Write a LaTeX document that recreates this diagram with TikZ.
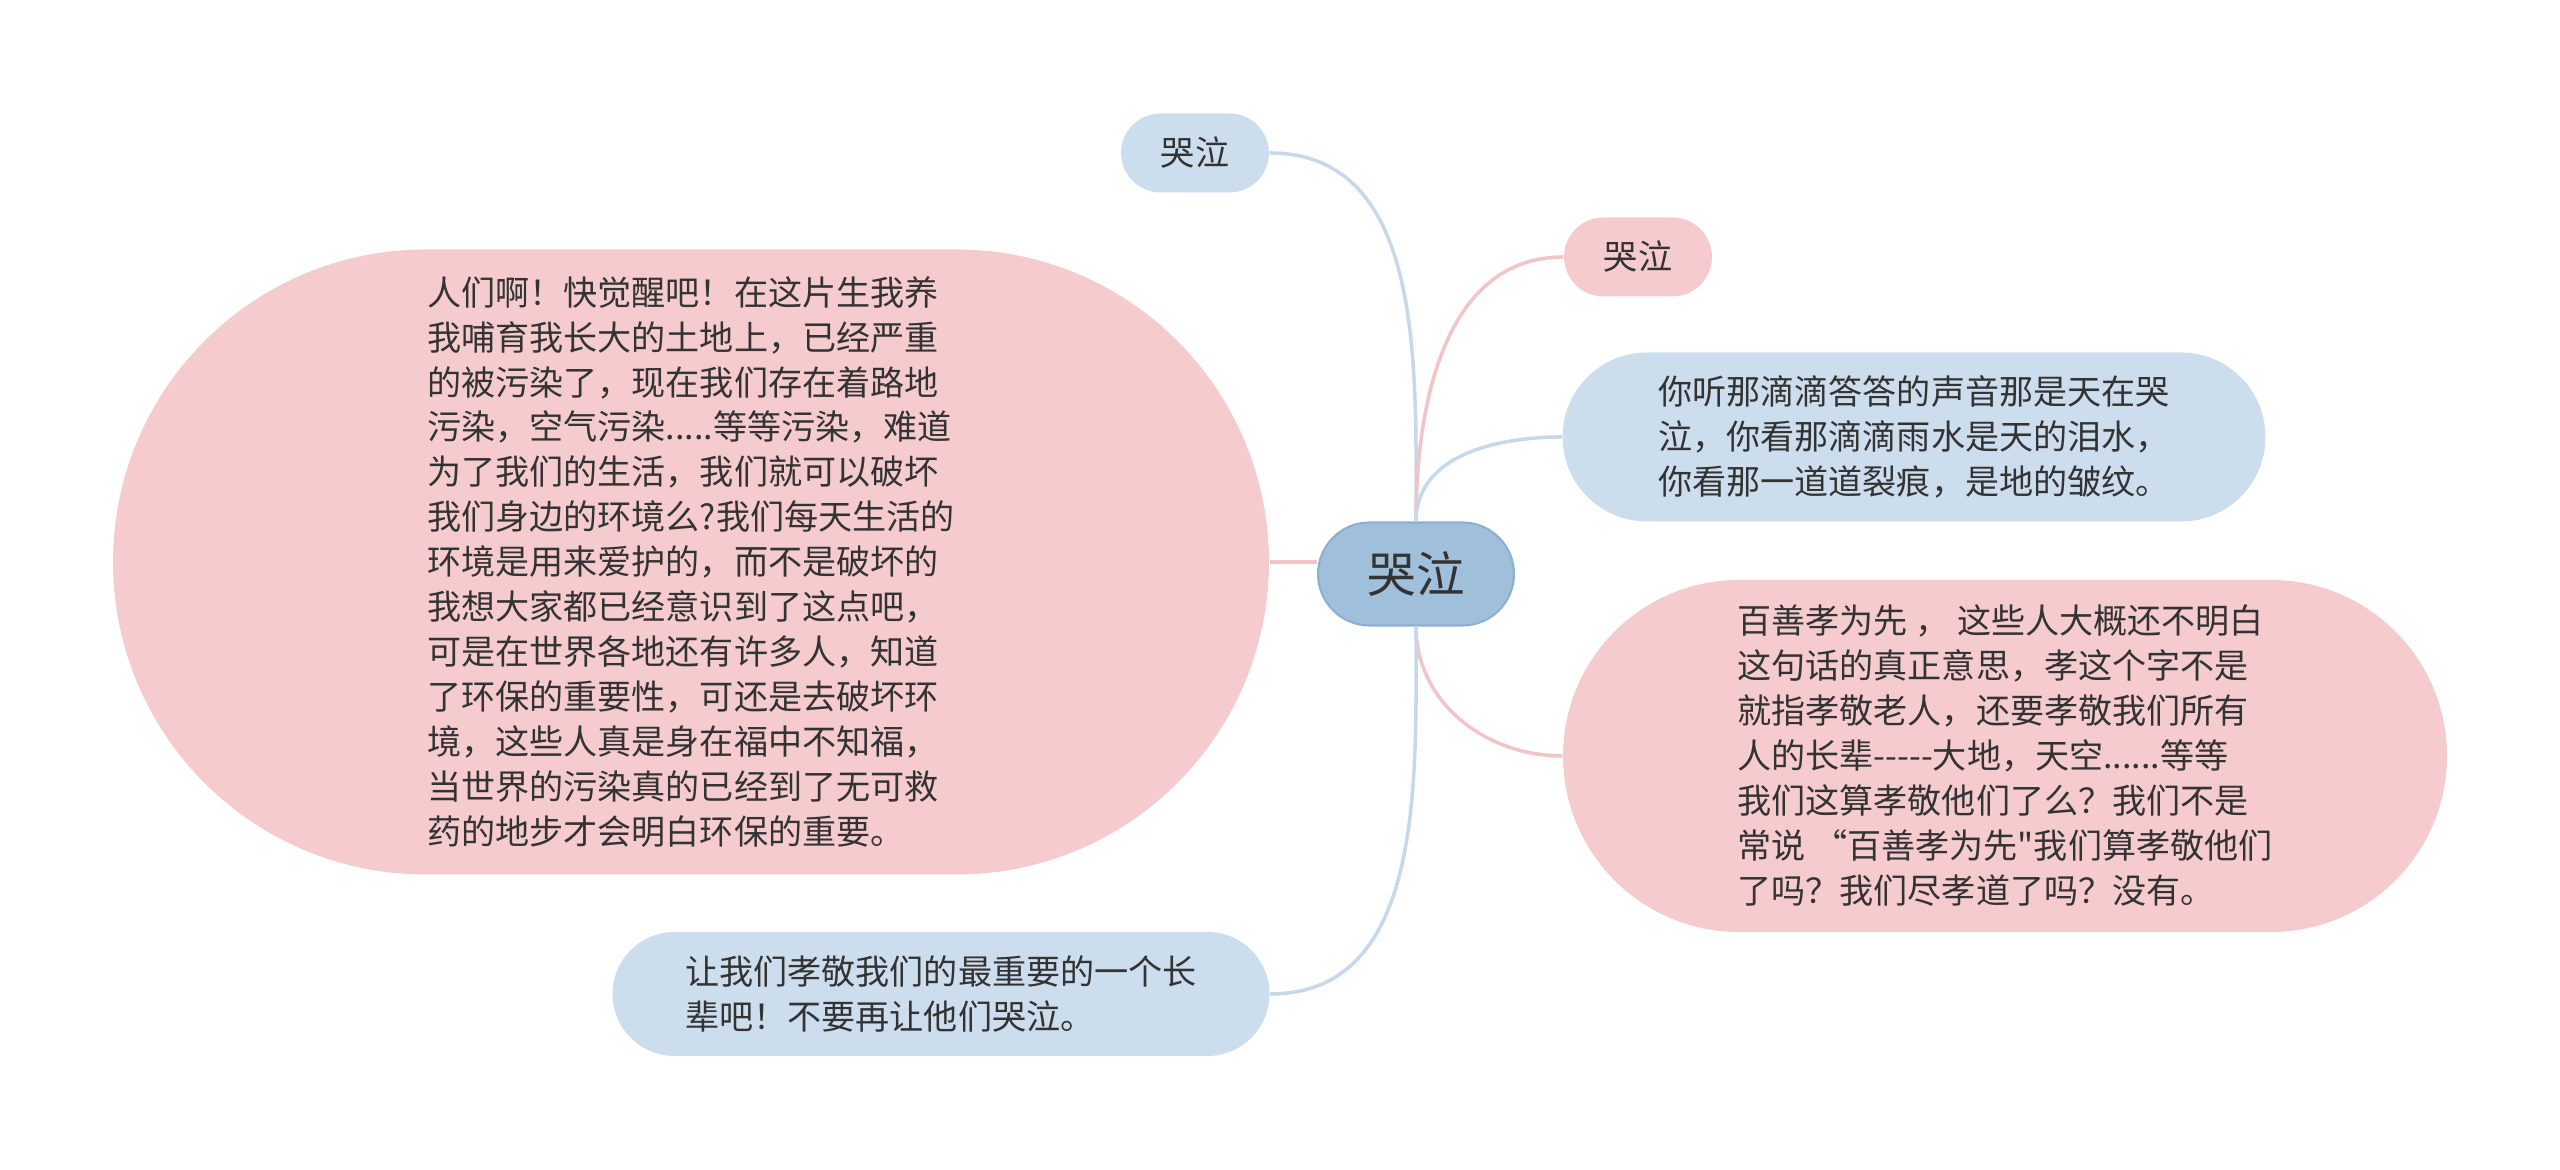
\documentclass[tikz,border=0pt]{standalone}
\usepackage{fontspec}
\setmainfont{Noto Sans CJK SC}[Ligatures=TeXOff]
\usepackage{tikz}
\usetikzlibrary{shapes.misc,positioning,calc}

\definecolor{nodeblue}{HTML}{CCDDED}
\definecolor{nodepink}{HTML}{F5CBCE}
\definecolor{rootblue}{HTML}{9FBFDB}
\definecolor{rootedge}{HTML}{8EB0D0}
\definecolor{lineblue}{HTML}{C6D8EA}
\definecolor{linepink}{HTML}{F2C4C7}
\definecolor{inkgray}{HTML}{333333}

\begin{document}
\begin{tikzpicture}[
				root/.style={
					rounded rectangle,
					fill=rootblue,
					draw=rootedge,
					line width=0.6pt,
					text=inkgray,
					inner sep=2pt,
					minimum width=2.1cm,
					minimum height=1.03cm,
					font=\fontsize{13.8pt}{16pt}\selectfont
				},
				leaf/.style={
					rounded rectangle,
					text=inkgray,
					align=left,
					inner sep=2pt,
					font=\fontsize{9.7pt}{12.8pt}\selectfont
				},
				bluelink/.style={
					draw=lineblue,
					line width=1pt
				},
				pinklink/.style={
					draw=linepink,
					line width=1pt
				}
				]
				
				\useasboundingbox (0,0) rectangle (25.6,11.7);
				
				% -------------------------------------------------------------------------
				% Central topic
				% -------------------------------------------------------------------------
				
				\node[root] (Root) at (14.16,5.96) {哭泣};
				
				% -------------------------------------------------------------------------
				% Branches
				% -------------------------------------------------------------------------
				
				\node[leaf,fill=nodeblue,minimum width=1.62cm,minimum height=0.79cm] (CryTop) at (11.95,10.17)
				{哭泣};
				
				\node[leaf,fill=nodepink,minimum width=1.62cm,minimum height=0.79cm] (CryRight) at (16.38,9.13)
				{哭泣};
				
				\node[leaf,fill=nodeblue,minimum width=7.17cm,minimum height=1.69cm] (Rain) at (19.14,7.33)
				{你听那滴滴答答的声音那是天在哭\\
					泣，你看那滴滴雨水是天的泪水，\\
					你看那一道道裂痕，是地的皱纹。};
				
				\node[leaf,fill=nodepink,minimum width=11.7cm,minimum height=6.25cm] (Earth) at (6.91,6.08)
				{人们啊！快觉醒吧！在这片生我养\\
					我哺育我长大的土地上，已经严重\\
					的被污染了，现在我们存在着路地\\
					污染，空气污染.....等等污染，难道\\
					为了我们的生活，我们就可以破坏\\
					我们身边的环境么?我们每天生活的\\
					环境是用来爱护的，而不是破坏的\\
					我想大家都已经意识到了这点吧，\\
					可是在世界各地还有许多人，知道\\
					了环保的重要性，可还是去破坏环\\
					境，这些人真是身在福中不知福，\\
					当世界的污染真的已经到了无可救\\
					药的地步才会明白环保的重要。};
				
				\node[leaf,fill=nodepink,minimum width=8.98cm,minimum height=3.52cm] (Filial) at (20.05,4.14)
				{百善孝为先 ， 这些人大概还不明白\\
					这句话的真正意思，孝这个字不是\\
					就指孝敬老人，还要孝敬我们所有\\
					人的长辈-----大地，天空......等等\\
					我们这算孝敬他们了么？我们不是\\
					常说 “百善孝为先"我们算孝敬他们\\
					了吗？我们尽孝道了吗？没有。};
				
				\node[leaf,fill=nodeblue,minimum width=6.71cm,minimum height=1.24cm] (Elder) at (9.41,1.76)
				{让我们孝敬我们的最重要的一个长\\
					辈吧！不要再让他们哭泣。};
				
				% -------------------------------------------------------------------------
				% Connectors
				% -------------------------------------------------------------------------
				
				\draw[bluelink] (Root.north) to[out=90,in=0] (CryTop.east);
				\draw[pinklink] (Root.north) to[out=90,in=180] (CryRight.west);
				\draw[bluelink] (Root.north) to[out=90,in=180] (Rain.west);
				\draw[pinklink] (Earth.east) -- (Earth.east -| Root.west);
				\draw[pinklink] (Root.south) to[out=-90,in=180] (Filial.west);
				\draw[bluelink] (Root.south) to[out=-90,in=0] (Elder.east);
				
\end{tikzpicture}
\end{document}
